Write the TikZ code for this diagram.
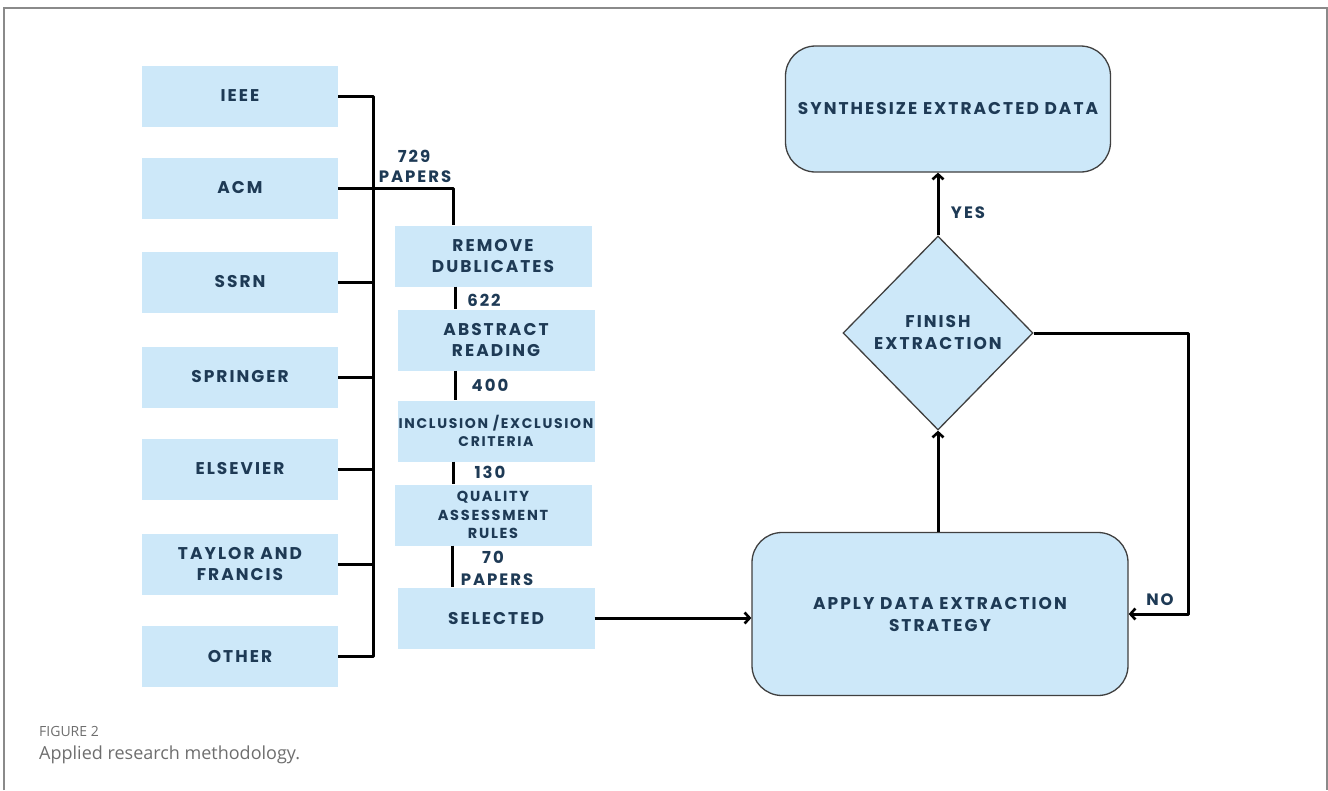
\documentclass[tikz,border=0pt]{standalone}
\usepackage{fontspec}
\usetikzlibrary{shapes.geometric,arrows.meta}
\newfontfamily\boxfont[LetterSpace=12]{Poppins}
\newfontfamily\capfont{Open Sans}
\definecolor{boxblue}{HTML}{CDE8F9}
\definecolor{navy}{HTML}{1E3A55}
\definecolor{framegray}{HTML}{8A8A8A}
\definecolor{capgray}{HTML}{6E6E6E}
\begin{document}
\begin{tikzpicture}[x=1pt,y=-1pt,
  flat/.style={fill=boxblue, draw=none, minimum width=196pt, minimum height=61pt, inner sep=0pt, align=center, text=navy, font=\boxfont\bfseries\fontsize{17}{21}\selectfont},
  smallflat/.style={flat, font=\boxfont\bfseries\fontsize{14}{18}\selectfont},
  roundbox/.style={fill=boxblue, draw=black!75, line width=1.3pt, rounded corners=30pt, inner sep=0pt, align=center, text=navy, font=\boxfont\bfseries\fontsize{17}{22}\selectfont},
  decision/.style={shape=diamond, fill=boxblue, draw=black!75, line width=1.3pt, inner sep=0pt, minimum width=190pt, minimum height=194pt, align=center, text=navy, font=\boxfont\bfseries\fontsize{17}{22}\selectfont},
  conn/.style={line width=3pt, black, line join=round},
  arr/.style={conn, -{Straight Barb[length=5pt,width=11pt,line width=2.6pt]}},
  num/.style={text=navy, inner sep=0pt, align=center, font=\boxfont\bfseries\fontsize{16.5}{23}\selectfont}
]
\useasboundingbox (0,0) rectangle (1328,790);
\draw[framegray, line width=1.5pt] (4,790) -- (4,8) -- (1327,8) -- (1327,790);

% sources
\node[flat] (ieee) at (240,96) {IEEE};
\node[flat] (acm) at (240,188) {ACM};
\node[flat] (ssrn) at (240,282) {SSRN};
\node[flat] (springer) at (240,377) {SPRINGER};
\node[flat] (elsevier) at (240,469) {ELSEVIER};
\node[flat] (taylor) at (240,564) {TAYLOR AND\\FRANCIS};
\node[flat] (other) at (240,656) {OTHER};
\coordinate (bus) at (373,400);

% pipeline
\node[flat, minimum width=197pt] (remove) at (493,256) {REMOVE\\DUBLICATES};
\node[flat, minimum width=197pt] (abstract) at (496,340) {ABSTRACT\\READING};
\node[smallflat, minimum width=197pt] (incl) at (496,431) {INCLUSION /EXCLUSION\\CRITERIA};
\node[flat, minimum width=197pt, font=\boxfont\bfseries\fontsize{14.5}{18.5}\selectfont] (quality) at (493,515) {QUALITY\\ASSESSMENT\\RULES};
\node[flat, minimum width=197pt] (selected) at (496,618) {SELECTED};

% right flow
\node[roundbox, minimum width=376pt, minimum height=163pt] (apply) at (940,614) {APPLY DATA EXTRACTION\\STRATEGY};
\node[decision] (finish) at (938,333) {FINISH\\EXTRACTION};
\node[roundbox, minimum width=325pt, minimum height=126pt] (synth) at (948,109) {SYNTHESIZE EXTRACTED DATA};
\coordinate (loop) at (1188,333);

% connectors left
\draw[conn] (ieee.east) -| (bus) |- (other.east);
\draw[conn] (ssrn.east) -- (ssrn.east -| bus);
\draw[conn] (springer.east) -- (springer.east -| bus);
\draw[conn] (elsevier.east) -- (elsevier.east -| bus);
\draw[conn] (taylor.east) -- (taylor.east -| bus);
\draw[conn] (acm.east) -| ([xshift=-40pt]remove.north);

\draw[conn] ([xshift=-38pt]remove.south) -- ([xshift=-38pt]remove.south |- abstract.north);
\draw[conn] ([xshift=-41pt]abstract.south) -- ([xshift=-41pt]abstract.south |- incl.north);
\draw[conn] ([xshift=-43pt]incl.south) -- ([xshift=-43pt]incl.south |- quality.north);
\draw[conn] ([xshift=-41pt]quality.south) -- ([xshift=-41pt]quality.south |- selected.north);

\node[num] (n729) at (414,156) {729};
\node[num] (p729) at (415,177) {PAPERS};
\node[num] (n622) at (484,300) {622};
\node[num] (n400) at (490,385) {400};
\node[num] (n130) at (490,472) {130};
\node[num] (n70) at (493,557) {70};
\node[num] (p70) at (497,580) {PAPERS};

% connectors right
\draw[arr] (selected.east) -- (selected.east -| apply.west);
\draw[arr] ([xshift=-2pt]apply.north) -- (finish.south);
\draw[arr] (finish.north) -- (finish.north |- synth.south);
\draw[arr] (finish.east) -- (loop) |- (apply.east);
\node[num] (yes) at (968,213) {YES};
\node[num] (no) at (1160,600) {NO};

% caption
\node[anchor=west, inner sep=0pt, text=capgray, font=\capfont\fontsize{14}{16}\selectfont] (fig) at (39,731) {FIGURE 2};
\node[anchor=west, inner sep=0pt, text=capgray, font=\capfont\fontsize{18}{20}\selectfont] (cap) at (39,755) {Applied research methodology.};
\end{tikzpicture}
\end{document}
